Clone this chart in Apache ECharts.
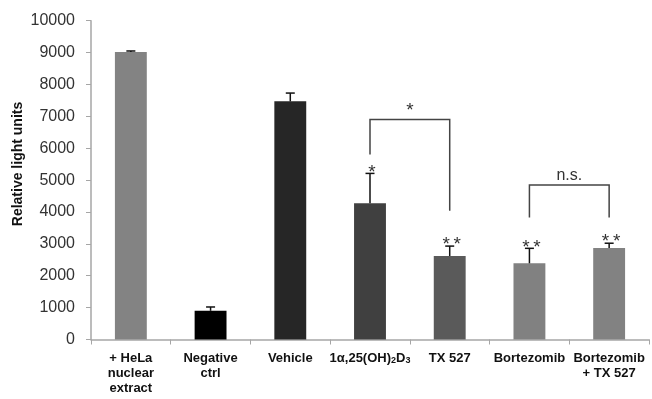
<!DOCTYPE html>
<html><head><meta charset="utf-8">
<script src="https://cdn.jsdelivr.net/npm/echarts@6/dist/echarts.min.js"></script>
<style>html,body{margin:0;padding:0;background:#fff}#c{width:652px;height:399px}</style>
</head><body><div id="c"></div>
<script>
// ---- data ----
const categories = ['+ HeLa\nnuclear\nextract', 'Negative\nctrl', 'Vehicle', '1α,25(OH)2D3', 'TX 527', 'Bortezomib', 'Bortezomib\n+ TX 527'];
const values = [9020, 900, 7470, 4270, 2620, 2390, 2870];
const errors = [30, 120, 260, 940, 310, 470, 150];
const stars = ['', '', '', '*', '*\u2009*', '*\u2009*', '*\u2009*'];
const yMin = 0, yMax = 10000, yStep = 1000;
// significance brackets (in category-index / value space)
const bracketFrom = [3.03, 4.91];
const bracketTo = [4.05, 6.02];
const bracketTop = [6900, 4850];
const bracketLeftEnd = [5800, 3830];
const bracketRightEnd = [4040, 3830];
const bracketLabels = ['*', 'n.s.'];

// ---- style ----
const barColors = ['#838383', '#000000', '#262626', '#404040', '#5a5a5a', '#818181', '#828282'];
const FONT = 'Liberation Sans, Arial, sans-serif';
const axisGray = '#a6a6a6';

const chart = echarts.init(document.getElementById('c'), null, {renderer: 'canvas'});

const option = {
  animation: false,
  backgroundColor: '#fff',
  grid: {left: 91, right: 3, top: 20.7, bottom: 59.5, containLabel: false},
  xAxis: {
    type: 'category',
    data: categories,
    boundaryGap: true,
    axisLine: {lineStyle: {color: axisGray, width: 1.5}},
    axisTick: {show: true, length: 5, lineStyle: {color: axisGray, width: 1}},
    axisLabel: {
      interval: 0, fontFamily: FONT, fontWeight: 'bold', fontSize: 13, color: '#111',
      lineHeight: 15, margin: 11,
      formatter: v => v.replace('(OH)2D3', '(OH){sub|2}D{sub|3}'),
      rich: {sub: {fontFamily: FONT, fontWeight: 'bold', fontSize: 9, color: '#111', verticalAlign: 'bottom', lineHeight: 12}}
    }
  },
  yAxis: {
    type: 'value', min: yMin, max: yMax, interval: yStep,
    axisLine: {show: true, lineStyle: {color: axisGray, width: 1.5}},
    axisTick: {show: true, length: 5, lineStyle: {color: axisGray}},
    splitLine: {show: false},
    axisLabel: {fontFamily: FONT, fontSize: 16, color: '#333', margin: 16, formatter: v => String(v)}
  },
  graphic: [{
    type: 'text', x: 18, y: 164, rotation: Math.PI / 2,
    style: {text: 'Relative light units', font: 'bold 14px ' + FONT, fill: '#111', align: 'center', verticalAlign: 'middle'}
  }],
  series: [
    {
      type: 'bar', barWidth: '40%',
      data: values.map((v, i) => ({value: v, itemStyle: {color: barColors[i]}})),
      z: 2
    },
    {
      type: 'custom', z: 5,
      data: values.map((v, i) => [i, v, errors[i]]),
      encode: {x: 0, y: 1},
      renderItem: (params, api) => {
        const i = params.dataIndex;
        const x = api.value(0), v = api.value(1), e = api.value(2);
        const b = api.coord([x, v]);
        const t = api.coord([x, v + e]);
        const cap = 4.5;
        const st = {stroke: '#111', lineWidth: 1.5};
        const ch = [
          {type: 'line', shape: {x1: b[0], y1: b[1], x2: t[0], y2: t[1]}, style: st},
          {type: 'line', shape: {x1: t[0] - cap, y1: t[1], x2: t[0] + cap, y2: t[1]}, style: st}
        ];
        if (stars[i]) {
          ch.push({type: 'text', x: t[0] + 2, y: t[1] - 1,
            style: {text: stars[i], font: '19px ' + FONT, fill: '#333', align: 'center', verticalAlign: 'middle'}});
        }
        return {type: 'group', children: ch};
      }
    },
    {
      type: 'custom', z: 5,
      data: bracketFrom.map((f, i) => [f, bracketTop[i], bracketTo[i], bracketLeftEnd[i], bracketRightEnd[i]]),
      encode: {x: 0, y: 1},
      renderItem: (params, api) => {
        const i = params.dataIndex;
        const tl = api.coord([api.value(0), api.value(1)]);
        const tr = api.coord([api.value(2), api.value(1)]);
        const bl = api.coord([api.value(0), api.value(3)]);
        const br = api.coord([api.value(2), api.value(4)]);
        const st = {stroke: '#444', lineWidth: 1.5, fill: null};
        const lbl = bracketLabels[i];
        return {type: 'group', children: [
          {type: 'polyline', shape: {points: [bl, tl, tr, br]}, style: st},
          {type: 'text', x: (tl[0] + tr[0]) / 2, y: tl[1] - 9,
            style: {text: lbl, font: (lbl === '*' ? '19px ' : '16px ') + FONT, fill: '#333', align: 'center', verticalAlign: 'middle'}}
        ]};
      }
    }
  ]
};
chart.setOption(option);
</script>
</body></html>
